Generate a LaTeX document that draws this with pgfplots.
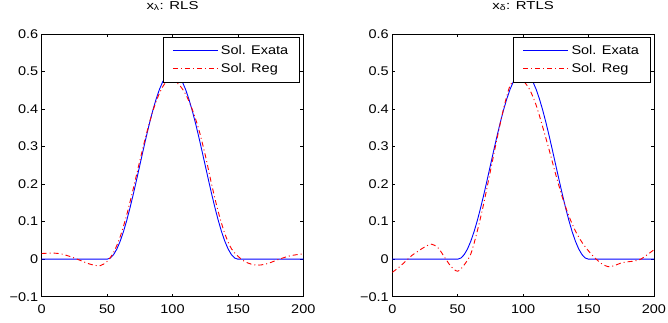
\documentclass[border=0pt]{standalone}
\usepackage{fontspec}
\setmainfont{Liberation Sans}
\newfontfamily\wfont[FakeStretch=1.15]{Liberation Sans}
\newfontfamily\tfont[FakeStretch=1.3]{Liberation Sans}
\usepackage{pgfplots}
\pgfplotsset{compat=1.18}
\definecolor{mblue}{rgb}{0,0,1}
\definecolor{mred}{rgb}{1,0,0}

\pgfplotsset{
 mstyle/.style={
  scale only axis, width=261.6pt, height=262.7pt,
  xmin=0,xmax=200,ymin=-0.1,ymax=0.6,
  xtick={0,50,100,150,200},
  ytick={-0.1,0,0.1,0.2,0.3,0.4,0.5,0.6},
  yticklabels={−0.1,0,0.1,0.2,0.3,0.4,0.5,0.6},
  tick align=inside, major tick length=3pt,
  axis line style={line width=0.6pt},
  every tick/.style={black, line width=0.5pt},
  tick label style={font=\wfont\fontsize{12.6}{14}\selectfont},
  xticklabel style={yshift=-4pt},
  /pgf/number format/assume math mode=true,
  title style={font=\tfont\fontsize{11.5}{13}\selectfont, at={(0.5,1)}, anchor=base, yshift=19pt},
  legend style={at={(1,1)}, anchor=north east, xshift=-3pt, yshift=-3pt, line width=1pt,
     font=\wfont\fontsize{12.6}{14}\selectfont, inner xsep=9pt, inner ysep=5.5pt, row sep=2.5pt,
     nodes={inner sep=2.5pt}},
  legend cell align=left,
  legend image code/.code={\draw[#1] (0pt,0.4pt) -- (45pt,0.4pt);},
 },
 solA/.style={draw=mblue, line width=0.9pt, solid},
 solB/.style={draw=mred, line width=0.9pt, dash pattern=on 5pt off 3pt on 1pt off 3pt},
}

\begin{document}
\begin{tikzpicture}[x=1pt,y=1pt]
\useasboundingbox (0,0) rectangle (668,323);

\begin{axis}[mstyle, at={(41.7pt,26.3pt)}, anchor=south west, title={x\textsubscript{λ}: RLS}]
\addlegendimage{solA, line width=1.3pt}
\addlegendentry{Sol. Exata}
\addlegendimage{solB, line width=1.1pt}
\addlegendentry{Sol. Reg}
\addplot[solA, forget plot] coordinates {
(0,0) (50,0) (52.5,0.00308) (55,0.01224) (57.5,0.02725) (60,0.04775) (62.5,0.07322) (65,0.10305)
(67.5,0.13650) (70,0.17275) (72.5,0.21089) (75,0.25) (77.5,0.28911) (80,0.32725) (82.5,0.36350)
(85,0.39695) (87.5,0.42678) (90,0.45225) (92.5,0.47275) (95,0.48776) (97.5,0.49692) (100,0.5)
(102.5,0.49692) (105,0.48776) (107.5,0.47275) (110,0.45225) (112.5,0.42678) (115,0.39695)
(117.5,0.36350) (120,0.32725) (122.5,0.28911) (125,0.25) (127.5,0.21089) (130,0.17275)
(132.5,0.13650) (135,0.10305) (137.5,0.07322) (140,0.04775) (142.5,0.02725) (145,0.01224)
(147.5,0.00308) (150,0) (200,0)};
\addplot[solB, smooth, forget plot] coordinates {
(0,0.015) (5,0.016) (10,0.016) (15,0.014) (20,0.009) (25,0.003) (30,-0.004) (35,-0.011)
(40,-0.016) (45,-0.017) (50,-0.006) (55,0.018) (60,0.06) (65,0.118) (70,0.188) (75,0.262)
(80,0.333) (85,0.395) (90,0.442) (95,0.472) (100,0.478) (105,0.465) (110,0.44) (115,0.40)
(120,0.347) (125,0.278) (130,0.198) (135,0.126) (140,0.068) (145,0.028) (150,0.008) (155,-0.006)
(160,-0.013) (165,-0.016) (170,-0.014) (175,-0.009) (180,-0.002) (185,0.004) (190,0.009)
(195,0.012) (200,0.014)};
\end{axis}

\begin{axis}[mstyle, at={(392.3pt,26.3pt)}, anchor=south west, title={x\textsubscript{δ}: RTLS}]
\addlegendimage{solA, line width=1.3pt}
\addlegendentry{Sol. Exata}
\addlegendimage{solB, line width=1.1pt}
\addlegendentry{Sol. Reg}
\addplot[solA, forget plot] coordinates {
(0,0) (50,0) (52.5,0.00308) (55,0.01224) (57.5,0.02725) (60,0.04775) (62.5,0.07322) (65,0.10305)
(67.5,0.13650) (70,0.17275) (72.5,0.21089) (75,0.25) (77.5,0.28911) (80,0.32725) (82.5,0.36350)
(85,0.39695) (87.5,0.42678) (90,0.45225) (92.5,0.47275) (95,0.48776) (97.5,0.49692) (100,0.5)
(102.5,0.49692) (105,0.48776) (107.5,0.47275) (110,0.45225) (112.5,0.42678) (115,0.39695)
(117.5,0.36350) (120,0.32725) (122.5,0.28911) (125,0.25) (127.5,0.21089) (130,0.17275)
(132.5,0.13650) (135,0.10305) (137.5,0.07322) (140,0.04775) (142.5,0.02725) (145,0.01224)
(147.5,0.00308) (150,0) (200,0)};
\addplot[solB, smooth, forget plot] coordinates {
(0,-0.035) (5,-0.022) (10,-0.006) (15,0.01) (20,0.022) (25,0.033) (30,0.04) (35,0.03)
(40,0.005) (45,-0.02) (50,-0.032) (55,-0.015) (60,0.014) (65,0.075) (70,0.15) (75,0.235)
(80,0.32) (85,0.40) (90,0.462) (95,0.48) (100,0.475) (105,0.452) (110,0.41) (115,0.352)
(120,0.29) (125,0.225) (130,0.165) (135,0.115) (140,0.075) (145,0.045) (150,0.022) (155,0.003)
(160,-0.012) (165,-0.02) (170,-0.017) (175,-0.01) (180,-0.007) (185,-0.005) (190,0)
(195,0.012) (200,0.025)};
\end{axis}
\end{tikzpicture}
\end{document}
